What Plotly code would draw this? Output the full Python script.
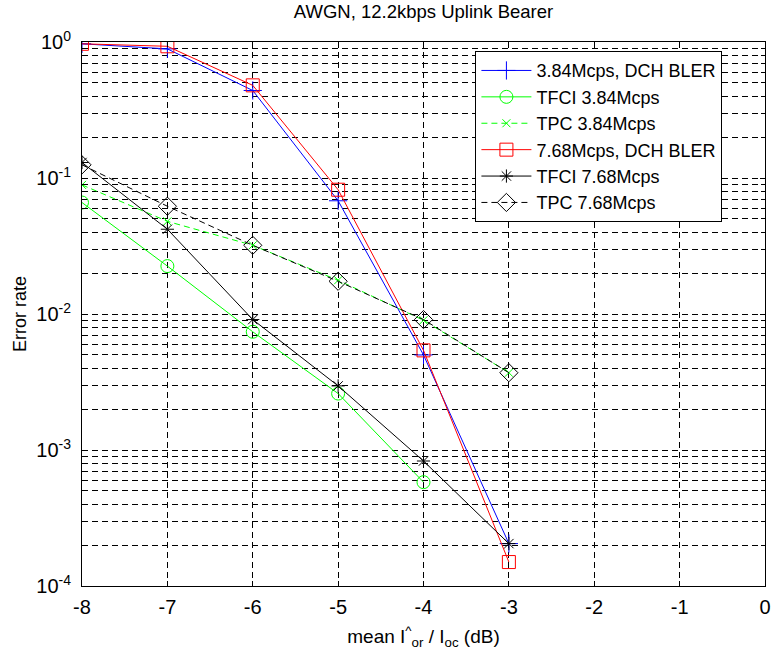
import plotly.graph_objects as go

# Mean Ior/Ioc (dB)
snr_db = [-8, -7, -6, -5, -4, -3]

# Error rates per series
dch_384 = [0.97, 0.89, 0.44, 0.068, 0.0050, 0.000205]
tfci_384 = [0.066, 0.0225, 0.0074, 0.0026, 0.00058]
tpc_384 = [0.089, 0.048, 0.032, 0.0177, 0.0090, 0.0037]
dch_768 = [0.97, 0.93, 0.48, 0.082, 0.0054, 0.00015]
tfci_768 = [0.13, 0.042, 0.0091, 0.00296, 0.00083, 0.000205]
tpc_768 = [0.125, 0.062, 0.032, 0.0174, 0.0091, 0.0037]

x_ticks = [-8, -7, -6, -5, -4, -3, -2, -1, 0]
decades = [-4, -3, -2, -1, 0]

series = [
    ("3.84Mcps, DCH BLER", snr_db, dch_384, "#0000ff", "solid", "cross-thin-open", 13),
    ("TFCI 3.84Mcps", snr_db[:5], tfci_384, "#00ff00", "solid", "circle-open", 13),
    ("TPC 3.84Mcps", snr_db, tpc_384, "#00ff00", "dash", "x-thin-open", 8),
    ("7.68Mcps, DCH BLER", snr_db, dch_768, "#ff0000", "solid", "square-open", 13),
    ("TFCI 7.68Mcps", snr_db, tfci_768, "#000000", "solid", "asterisk-open", 11),
    ("TPC 7.68Mcps", snr_db, tpc_768, "#000000", "dash", "diamond-open", 14),
]

fig = go.Figure()
for name, xs, ys, color, dash, symbol, size in series:
    fig.add_trace(go.Scatter(
        x=xs, y=ys, name=name, mode="lines+markers",
        line=dict(color=color, width=1, dash=dash if dash == "solid" else "6px,4px"),
        marker=dict(symbol=symbol, size=size, color=color,
                    line=dict(color=color, width=1)),
    ))

# Log axis: labelled decades plus minor grid lines on every 2..9 step
major_vals = [10.0 ** d for d in decades]
major_text = [f"10<sup>{d}</sup>" for d in decades]
minor_vals = [m * 10.0 ** d for d in decades[:-1] for m in range(2, 10)]

font_family = "Liberation Sans, Arial, sans-serif"
grid_dash = "6px,4px"

fig.update_layout(
    width=779, height=660,
    margin=dict(l=82, r=8, t=42, b=74),
    paper_bgcolor="white", plot_bgcolor="white",
    font=dict(family=font_family, color="black", size=16),
    title=dict(text="AWGN, 12.2kbps Uplink Bearer", xref="paper", x=0.5,
               xanchor="center", y=0.992, yanchor="top", font=dict(size=18.5)),
    xaxis=dict(
        range=[-8, 0], tickvals=x_ticks, ticktext=[str(v) for v in x_ticks],
        showline=True, linecolor="black", linewidth=1, mirror="ticks",
        ticks="inside", ticklen=5, tickcolor="black",
        showgrid=True, gridcolor="black", gridwidth=1, griddash=grid_dash,
        zeroline=False, tickfont=dict(size=20), ticklabelstandoff=3,
        title=dict(text="mean I<sup>^</sup><sub>or</sub> / I<sub>oc</sub> (dB)",
                   font=dict(size=19), standoff=12),
    ),
    yaxis=dict(
        type="log", range=[-4, 0], tickvals=major_vals, ticktext=major_text,
        showline=True, linecolor="black", linewidth=1, mirror="ticks",
        ticks="inside", ticklen=5, tickcolor="black",
        showgrid=True, gridcolor="black", gridwidth=1, griddash=grid_dash,
        minor=dict(tickmode="array", tickvals=minor_vals, ticks="inside",
                   ticklen=4, tickcolor="black", showgrid=True,
                   gridcolor="black", gridwidth=1, griddash=grid_dash),
        zeroline=False, tickfont=dict(size=20), ticklabelstandoff=6,
        title=dict(text="Error rate", font=dict(size=18), standoff=4),
    ),
    legend=dict(
        x=0.576, y=0.983, xanchor="left", yanchor="top",
        bgcolor="white", bordercolor="black", borderwidth=1,
        font=dict(size=18), itemwidth=50, tracegroupgap=0,
    ),
    showlegend=True,
)

fig.write_html("out.html")
